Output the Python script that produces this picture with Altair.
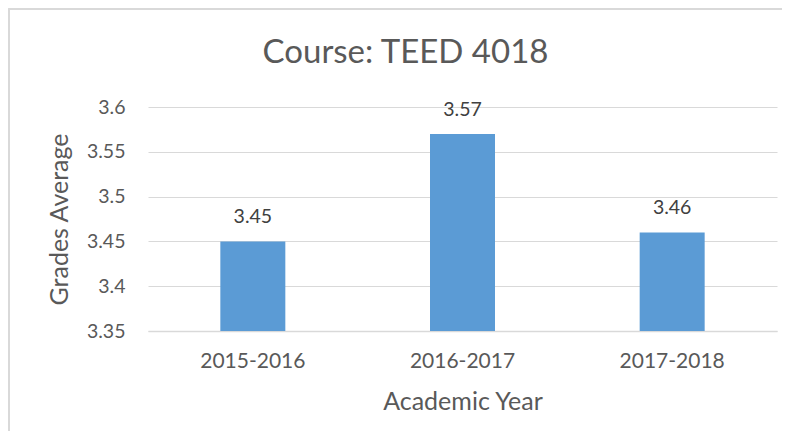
import altair as alt
import pandas as pd

years = ["2015-2016", "2016-2017", "2017-2018"]
averages = [3.45, 3.57, 3.46]
labels = ["3.45", "3.57", "3.46"]

df = pd.DataFrame({"year": years, "avg": averages, "label": labels})

FONT = "Lato"
GRAY = "#595959"

x = alt.X("year:N", sort=years,
          scale=alt.Scale(paddingInner=0.69, paddingOuter=0.345),
          axis=alt.Axis(title="Academic Year", labelAngle=0, ticks=False,
                        domainColor="#d9d9d9", domainWidth=1.5,
                        labelPadding=19, titlePadding=18,
                        labelFontSize=21, titleFontSize=25,
                        labelColor=GRAY, titleColor=GRAY,
                        labelFont=FONT, titleFont=FONT, titleFontWeight="normal"))
y = alt.Y("avg:Q",
          scale=alt.Scale(domain=[3.35, 3.6], zero=False, nice=False),
          axis=alt.Axis(title="Grades Average", values=[3.35, 3.4, 3.45, 3.5, 3.55, 3.6],
                        format=".2~f", ticks=False, domain=False,
                        gridColor="#d9d9d9", gridWidth=1.2,
                        labelPadding=23, titlePadding=14,
                        labelFontSize=19.5, titleFontSize=25,
                        labelColor=GRAY, titleColor=GRAY,
                        labelFont=FONT, titleFont=FONT, titleFontWeight="normal"))

bars = alt.Chart(df).mark_bar(color="#5B9BD5", clip=True).encode(x=x, y=y)
text = alt.Chart(df).mark_text(dy=-14, baseline="bottom", fontSize=19.5,
                               font=FONT, color="#404040").encode(
    x=alt.X("year:N", sort=years), y="avg:Q", text="label:N")

border = alt.Chart(df).mark_rect(fill=None, stroke="#d9d9d9", strokeWidth=1.5).encode(
    x=alt.value(-139), x2=alt.value(637), y=alt.value(-98), y2=alt.value(338))

chart = alt.layer(border, bars, text).properties(
    width=629, height=224,
    title=alt.TitleParams("Course: TEED 4018", fontSize=33, font=FONT,
                          fontWeight="normal", color=GRAY, offset=-95, dx=-57,
                          anchor="middle", baseline="bottom"),
    autosize=alt.AutoSizeParams(type="none"),
    padding={"left": 140, "top": 99, "right": 5, "bottom": 100},
).configure_view(stroke=None)

chart.save("out.html", embed_options={"renderer": "svg", "actions": False})
